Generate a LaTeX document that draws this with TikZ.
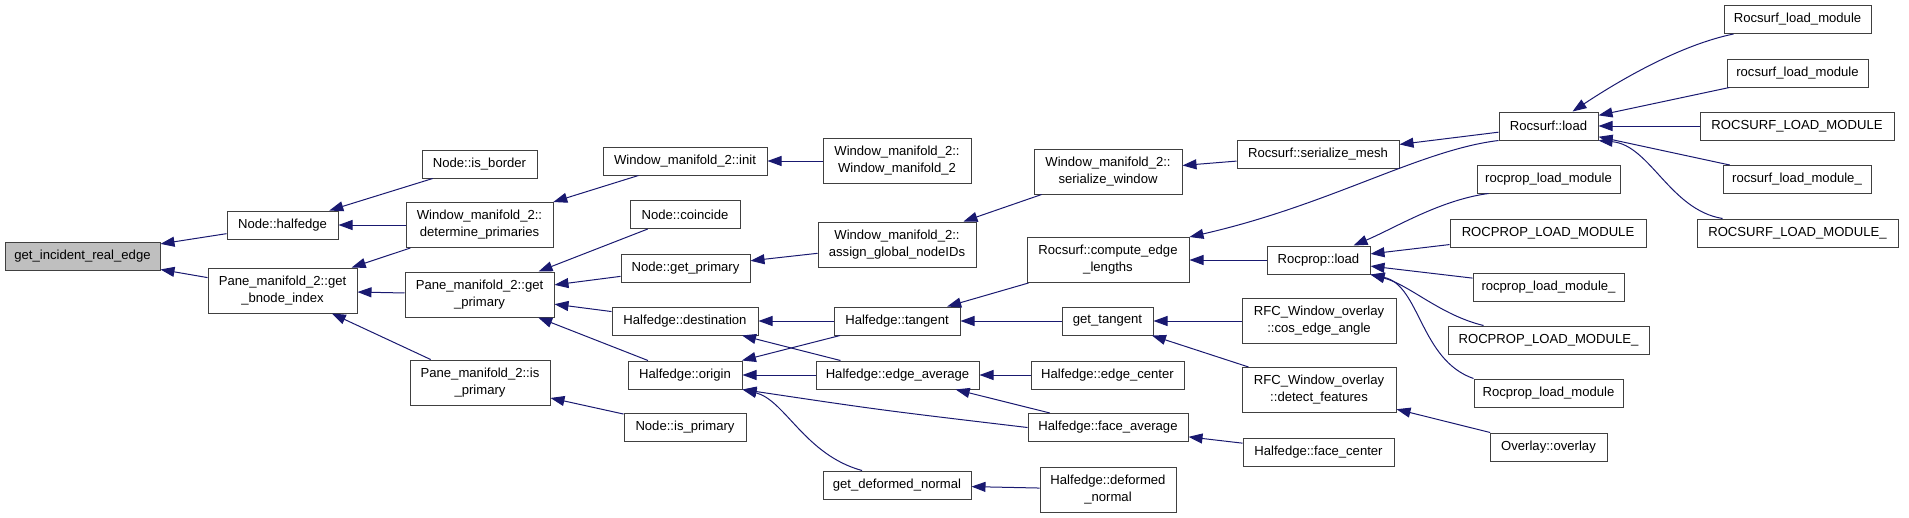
\documentclass[tikz,border=0pt]{standalone}
\usepackage{fontspec}
\setmainfont{Liberation Sans}
\usetikzlibrary{arrows.meta}

\definecolor{edgeblue}{HTML}{191970}
\definecolor{boxgray}{HTML}{404040}
\definecolor{rootfill}{HTML}{BFBFBF}

\begin{document}
\begin{tikzpicture}[x=1pt, y=-1pt,
    fn/.style={draw=boxgray, line width=1pt, fill=white, inner sep=0pt,
        minimum height=28pt, align=center, font=\fontsize{13.1}{17}\selectfont},
    fn2/.style={fn, minimum height=45pt},
    calls/.style={draw=edgeblue, line width=1pt, {Triangle[length=14pt,width=10pt]}-}]

    \useasboundingbox (0,0) rectangle (1909,517);

    % Корень графа
    \node[fn, fill=rootfill, minimum width=155pt] (gire) at (82.5,256) {get\_incident\_real\_edge};

    % Второй столбец
    \node[fn,  minimum width=111pt] (halfedge) at (282.5,225)   {Node::halfedge};
    \node[fn2, minimum width=149pt] (bnode)    at (282.5,290.5) {Pane\_manifold\_2::get\\\_bnode\_index};

    % Третий столбец
    \node[fn,  minimum width=115pt] (isborder) at (479.5,164)   {Node::is\_border};
    \node[fn2, minimum width=147pt] (detprim)  at (479.5,225)   {Window\_manifold\_2::\\determine\_primaries};
    \node[fn2, minimum width=149pt] (pgetprim) at (479.5,294.5) {Pane\_manifold\_2::get\\\_primary};
    \node[fn2, minimum width=140pt] (pisprim)  at (480,382.5)   {Pane\_manifold\_2::is\\\_primary};

    % Четвёртый столбец
    \node[fn, minimum width=164pt] (wminit)   at (685,161)   {Window\_manifold\_2::init};
    \node[fn, minimum width=110pt] (coincide) at (685,214.5) {Node::coincide};
    \node[fn, minimum width=129pt] (ngetprim) at (685.5,268) {Node::get\_primary};
    \node[fn, minimum width=146pt] (dest)     at (685,321)   {Halfedge::destination};
    \node[fn, minimum width=114pt] (origin)   at (685,375)   {Halfedge::origin};
    \node[fn, minimum width=122pt] (nisprim)  at (685,427.5) {Node::is\_primary};

    % Пятый столбец
    \node[fn2, minimum width=148pt] (wmctor)  at (897,161)   {Window\_manifold\_2::\\Window\_manifold\_2};
    \node[fn2, minimum width=158pt] (assign)  at (897,244.5) {Window\_manifold\_2::\\assign\_global\_nodeIDs};
    \node[fn,  minimum width=126pt] (tangent) at (897,321)   {Halfedge::tangent};
    \node[fn,  minimum width=163pt] (edgeavg) at (897.5,375) {Halfedge::edge\_average};
    \node[fn,  minimum width=148pt] (gdn)     at (897,485)   {get\_deformed\_normal};

    % Шестой столбец
    \node[fn2, minimum width=148pt] (serwin)  at (1108,171.5)  {Window\_manifold\_2::\\serialize\_window};
    \node[fn2, minimum width=162pt] (cel)     at (1108,260)    {Rocsurf::compute\_edge\\\_lengths};
    \node[fn,  minimum width=91pt]  (gettan)  at (1107.5,321)  {get\_tangent};
    \node[fn,  minimum width=153pt] (edgecen) at (1107.5,375)  {Halfedge::edge\_center};
    \node[fn,  minimum width=160pt] (faceavg) at (1108,427.5)  {Halfedge::face\_average};
    \node[fn2, minimum width=136pt] (defnorm) at (1108,489.5)  {Halfedge::deformed\\\_normal};

    % Седьмой столбец
    \node[fn,  minimum width=162pt] (sermesh) at (1318,154.5) {Rocsurf::serialize\_mesh};
    \node[fn,  minimum width=103pt] (rpload)  at (1318.5,260) {Rocprop::load};
    \node[fn2, minimum width=154pt] (cosang)  at (1319,321)   {RFC\_Window\_overlay\\::cos\_edge\_angle};
    \node[fn2, minimum width=154pt] (detfeat) at (1319,390)   {RFC\_Window\_overlay\\::detect\_features};
    \node[fn,  minimum width=151pt] (facecen) at (1318.5,452) {Halfedge::face\_center};

    % Восьмой столбец
    \node[fn, minimum width=99pt]  (rsload) at (1548.5,126) {Rocsurf::load};
    \node[fn, minimum width=143pt] (rplmA)  at (1548.5,179) {rocprop\_load\_module};
    \node[fn, minimum width=196pt] (rplmB)  at (1548,233)   {ROCPROP\_LOAD\_MODULE};
    \node[fn, minimum width=151pt] (rplmC)  at (1548.5,287) {rocprop\_load\_module\_};
    \node[fn, minimum width=201pt] (rplmD)  at (1548.5,340) {ROCPROP\_LOAD\_MODULE\_};
    \node[fn, minimum width=149pt] (rplmE)  at (1548.5,393) {Rocprop\_load\_module};
    \node[fn, minimum width=117pt] (overlay) at (1548.5,447) {Overlay::overlay};

    % Девятый столбец
    \node[fn, minimum width=147pt] (rslmA) at (1797.5,19.5) {Rocsurf\_load\_module};
    \node[fn, minimum width=141pt] (rslmB) at (1797.5,73)   {rocsurf\_load\_module};
    \node[fn, minimum width=194pt] (rslmC) at (1797,126)    {ROCSURF\_LOAD\_MODULE};
    \node[fn, minimum width=148pt] (rslmD) at (1797,179.5)  {rocsurf\_load\_module\_};
    \node[fn, minimum width=201pt] (rslmE) at (1797.5,233)  {ROCSURF\_LOAD\_MODULE\_};

    % Вызовы (стрелка у вызываемой функции)
    \draw[calls] (gire) -- (halfedge);
    \draw[calls] (gire) -- (bnode);
    \draw[calls] (halfedge) -- (isborder);
    \draw[calls] (halfedge) -- (detprim);
    \draw[calls] (bnode) -- (detprim);
    \draw[calls] (bnode) -- (pgetprim);
    \draw[calls] (bnode) -- (pisprim);
    \draw[calls] (detprim) -- (wminit);
    \draw[calls] (wminit) -- (wmctor);
    \draw[calls] (pgetprim) -- (coincide);
    \draw[calls] (pgetprim) -- (ngetprim);
    \draw[calls] (pgetprim) -- (dest);
    \draw[calls] (pgetprim) -- (origin);
    \draw[calls] (pisprim) -- (nisprim);
    \draw[calls] (ngetprim) -- (assign);
    \draw[calls] (assign) -- (serwin);
    \draw[calls] (serwin) -- (sermesh);
    \draw[calls] (sermesh) -- (rsload);
    \draw[calls] (dest) -- (tangent);
    \draw[calls] (dest) -- (edgeavg);
    \draw[calls] (origin) -- (tangent);
    \draw[calls] (origin) -- (edgeavg);
    \draw[calls] (origin.south east) .. controls (880,410) .. (faceavg.west);
    \draw[calls] (origin.south east) .. controls (785,400) and (805,455) .. ([xshift=-35pt]gdn.north);
    \draw[calls] (tangent) -- (cel);
    \draw[calls] (tangent) -- (gettan);
    \draw[calls] (edgeavg) -- (edgecen);
    \draw[calls] (edgeavg) -- (faceavg);
    \draw[calls] (gdn) -- (defnorm);
    \draw[calls] (faceavg) -- (facecen);
    \draw[calls] (cel) -- (rpload);
    \draw[calls] (cel.north east) .. controls (1330,205) and (1420,150) .. (rsload.south west);
    \draw[calls] (gettan) -- (cosang);
    \draw[calls] (gettan) -- (detfeat);
    \draw[calls] (detfeat) -- (overlay);

    % Rocsurf::load
    \draw[calls] ([xshift=24pt]rsload.north) .. controls (1620,80) and (1680,45) .. ([xshift=10pt]rslmA.south west);
    \draw[calls] (rsload) -- (rslmB);
    \draw[calls] (rsload) -- (rslmC);
    \draw[calls] (rsload) -- (rslmD);
    \draw[calls] (rsload.south east) .. controls (1650,145) and (1670,210) .. ([xshift=-75pt]rslmE.north);

    % Rocprop::load
    \draw[calls] ([xshift=35pt]rpload.north) .. controls (1395,228) and (1440,200) .. ([xshift=-60pt]rplmA.south);
    \draw[calls] (rpload) -- (rplmB);
    \draw[calls] (rpload) -- (rplmC);
    \draw[calls] (rpload.south east) .. controls (1410,285) and (1440,315) .. ([xshift=-65pt]rplmD.north);
    \draw[calls] (rpload.south east) .. controls (1420,285) and (1420,360) .. (rplmE.north west);

\end{tikzpicture}
\end{document}
